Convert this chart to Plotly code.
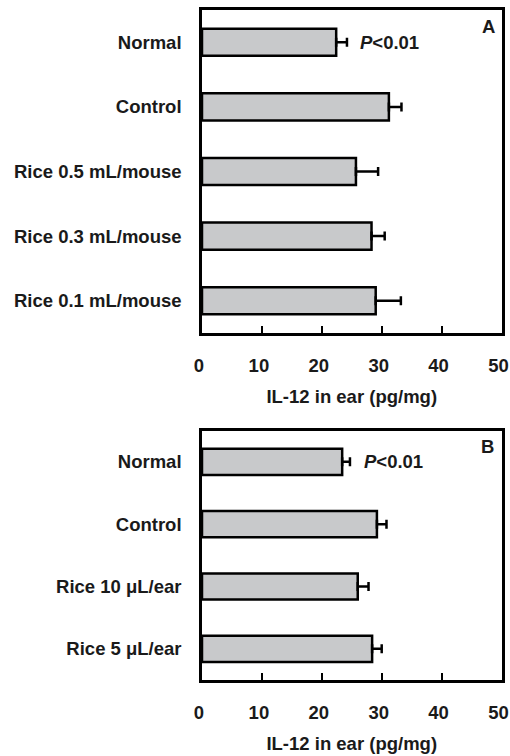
import plotly.graph_objects as go

# Panel A data
cats_a = ["Normal", "Control", "Rice 0.5 mL/mouse", "Rice 0.3 mL/mouse", "Rice 0.1 mL/mouse"]
vals_a = [22.4, 31.2, 25.7, 28.3, 29.0]
errs_a = [1.8, 2.1, 3.7, 2.2, 4.2]

# Panel B data
cats_b = ["Normal", "Control", "Rice 10 \u03bcL/ear", "Rice 5 \u03bcL/ear"]
vals_b = [23.4, 29.2, 26.0, 28.4]
errs_b = [1.3, 1.6, 1.8, 1.6]

x_ticks = [0, 10, 20, 30, 40, 50]
x_title = "IL-12 in ear (pg/mg)"
p_text = "<i>P</i>&lt;0.01"

FONT = "Liberation Sans, Arial, Helvetica, sans-serif"
FS = 18.5
TXT = "#1a1a1a"
BAR = "#c8c9cb"

fig = go.Figure()

def add_bars(cats, vals, errs, xa, ya):
    fig.add_trace(go.Bar(
        y=cats, x=vals, orientation="h", width=0.42,
        marker=dict(color=BAR, line=dict(color="black", width=2.5)),
        error_x=dict(type="data", array=errs, arrayminus=[0] * len(errs),
                     symmetric=False, color="black", thickness=2.5, width=4.5),
        xaxis=xa, yaxis=ya, showlegend=False,
    ))

add_bars(cats_a, vals_a, errs_a, "x", "y")
add_bars(cats_b, vals_b, errs_b, "x2", "y2")

def xaxis_cfg(domain, anchor):
    return dict(
        domain=domain, anchor=anchor, range=[0, 50], tickvals=x_ticks,
        ticks="inside", ticklen=7, tickwidth=2, tickcolor="black",
        showline=True, linecolor="black", linewidth=2.5, mirror=True,
        showgrid=False, zeroline=False, automargin=False,
        ticklabelstandoff=14, ticklabelshift=-3, ticklabeloverflow="allow",
        tickfont=dict(family=FONT, size=FS, color=TXT, weight="bold"),
        title=dict(text=x_title, standoff=16,
                   font=dict(family=FONT, size=FS, color=TXT, weight="bold")),
    )

def yaxis_cfg(domain, anchor, n):
    return dict(
        domain=domain, anchor=anchor, range=[n - 0.5, -0.5], type="category",
        ticks="", showline=True, linecolor="black", linewidth=2.5, mirror=True,
        showgrid=False, zeroline=False, automargin=False,
        ticklabelstandoff=14,
        tickfont=dict(family=FONT, size=FS, color=TXT, weight="bold"),
    )

xd = [202 / 510, 501.5 / 510]
fig.update_layout(
    width=510, height=756,
    margin=dict(l=0, r=0, t=0, b=0),
    paper_bgcolor="white", plot_bgcolor="white",
    xaxis=xaxis_cfg(xd, "y"),
    yaxis=yaxis_cfg([1 - 333 / 756, 1 - 10 / 756], "x", len(cats_a)),
    xaxis2=xaxis_cfg(xd, "y2"),
    yaxis2=yaxis_cfg([1 - 680 / 756, 1 - 430.7 / 756], "x2", len(cats_b)),
)

ann_font = dict(family=FONT, size=FS, color=TXT, weight="bold")
fig.add_annotation(x=26.1, y=cats_a[0], xref="x", yref="y", text=p_text,
                   showarrow=False, xanchor="left", yanchor="middle", font=ann_font)
fig.add_annotation(x=26.7, y=cats_b[0], xref="x2", yref="y2", text=p_text,
                   showarrow=False, xanchor="left", yanchor="middle", font=ann_font)
fig.add_annotation(x=488 / 510, y=1 - 27 / 756, xref="paper", yref="paper", text="A",
                   showarrow=False, xanchor="center", yanchor="middle", font=ann_font)
fig.add_annotation(x=487.7 / 510, y=1 - 446.7 / 756, xref="paper", yref="paper", text="B",
                   showarrow=False, xanchor="center", yanchor="middle", font=ann_font)

fig.write_html("out.html", config={"displayModeBar": False},
               post_script="document.body.style.margin='0';document.body.style.overflow='hidden';")
